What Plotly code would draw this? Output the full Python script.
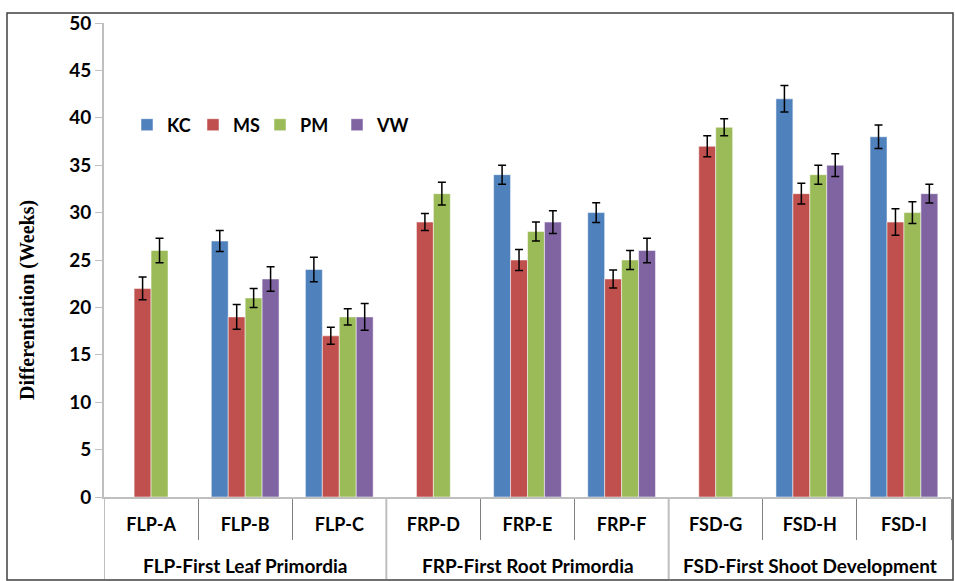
import plotly.graph_objects as go

categories = ["FLP-A", "FLP-B", "FLP-C", "FRP-D", "FRP-E", "FRP-F", "FSD-G", "FSD-H", "FSD-I"]
groups = ["FLP-First Leaf Primordia", "FRP-First Root Primordia", "FSD-First Shoot Development"]
group_centers = ["FLP-B", "FRP-E", "FSD-H"]

kc = [None, 27, 24, None, 34, 30, None, 42, 38]
ms = [22, 19, 17, 29, 25, 23, 37, 32, 29]
pm = [26, 21, 19, 32, 28, 25, 39, 34, 30]
vw = [None, 23, 19, None, 29, 26, None, 35, 32]

kc_err = [0, 1.1, 1.3, 0, 1.0, 1.05, 0, 1.4, 1.25]
ms_err = [1.2, 1.3, 0.9, 0.9, 1.1, 0.95, 1.1, 1.1, 1.4]
pm_err = [1.3, 1.0, 0.85, 1.2, 1.0, 1.0, 0.9, 1.0, 1.15]
vw_err = [0, 1.3, 1.4, 0, 1.2, 1.3, 0, 1.2, 1.0]

series = [
    ("KC", kc, kc_err, "#4F81BD"),
    ("MS", ms, ms_err, "#C0504D"),
    ("PM", pm, pm_err, "#9BBB59"),
    ("VW", vw, vw_err, "#8064A2"),
]

FONT = "Lato"
W, H = 955, 581
L, R, T, B = 104, 4, 23, 84
pw, ph = W - L - R, H - T - B

def px_x(px):
    return (px - L) / pw

def px_y(py):
    return (H - B - py) / ph

legend_square_left = [141, 207, 274, 351]
legend_ids = ["legend", "legend2", "legend3", "legend4"]

fig = go.Figure()
for (name, vals, errs, color), lid in zip(series, legend_ids):
    fig.add_trace(go.Bar(
        name=name, x=categories, y=vals, legend=lid,
        marker=dict(color=color, line=dict(color="rgba(255,255,255,0.5)", width=1)),
        error_y=dict(type="data", array=errs, visible=True, color="#000000", thickness=1.5, width=4),
    ))

shapes = []
shapes.append(dict(type="rect", xref="paper", yref="paper",
                   x0=px_x(7), x1=px_x(953), y0=px_y(580), y1=px_y(13),
                   line=dict(color="#404040", width=1.5), layer="below"))
for xb in [-0.5, 2.5, 5.5]:
    shapes.append(dict(type="line", xref="x", yref="paper", x0=xb, x1=xb,
                       y0=0, y1=px_y(579), line=dict(color="#BFBFBF", width=2)))

annotations = []
for g, c in zip(groups, group_centers):
    annotations.append(dict(x=c, xref="x", y=px_y(565), yref="paper", text=g,
                            showarrow=False, xanchor="center", yanchor="middle",
                            font=dict(family=FONT, size=19, color="#000000", weight="bold")))
annotations.append(dict(x=px_x(27), xref="paper", y=px_y(300), yref="paper",
                        text="Differentiation (Weeks)", textangle=-90, showarrow=False,
                        xanchor="center", yanchor="middle",
                        font=dict(family="Liberation Serif", size=20, color="#000000", weight="bold")))

legend_layout = {}
for lid, sq in zip(legend_ids, legend_square_left):
    legend_layout[lid] = dict(orientation="h", x=px_x(sq - 14), y=px_y(125), xanchor="left", yanchor="middle",
                              font=dict(family=FONT, size=18, color="#000000", weight="bold"),
                              bgcolor="rgba(0,0,0,0)", itemwidth=30)

fig.update_layout(
    width=W, height=H,
    margin=dict(l=L, r=R, t=T, b=B, autoexpand=False),
    paper_bgcolor="white", plot_bgcolor="white",
    barmode="group", bargap=0.28, bargroupgap=0,
    font=dict(family=FONT, size=18, color="#000000"),
    showlegend=True,
    xaxis=dict(type="category", range=[-0.5, 8.5], showline=True, linecolor="#BFBFBF", linewidth=2,
               ticks="outside", tickson="boundaries", ticklen=41, tickcolor="#808080", tickwidth=1,
               ticklabelstandoff=10,
               tickfont=dict(family=FONT, size=18, color="#000000", weight="bold"),
               showgrid=False, zeroline=False),
    yaxis=dict(range=[0, 50], dtick=5, showline=True, linecolor="#BFBFBF", linewidth=2,
               ticks="outside", ticklen=7, tickcolor="#BFBFBF", tickwidth=1,
               tickfont=dict(family=FONT, size=19, color="#000000", weight="bold"),
               showgrid=False, zeroline=False),
    shapes=shapes, annotations=annotations,
    **legend_layout,
)

fig.write_html("out.html", config={"displayModeBar": False},
               post_script="document.body.style.margin='0';document.body.style.padding='0';")
